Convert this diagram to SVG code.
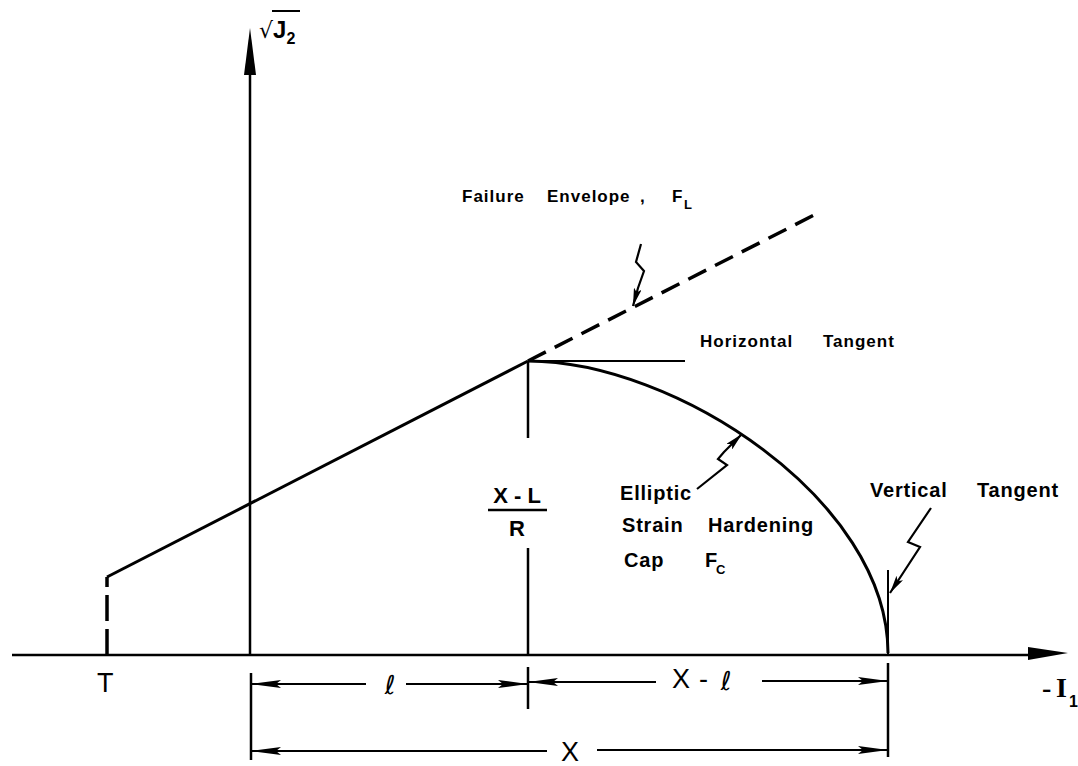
<svg xmlns="http://www.w3.org/2000/svg" width="1078" height="766" viewBox="0 0 1078 766">
<style>
  .ln{stroke:#000;fill:none;stroke-linecap:butt;stroke-linejoin:miter}
  .lbl{font-family:"Liberation Sans",Arial,sans-serif;font-weight:bold;font-size:17px;fill:#000;letter-spacing:1px}
  .mid{font-family:"Liberation Sans",Arial,sans-serif;font-weight:bold;font-size:20px;fill:#000;letter-spacing:0.8px}
  .sub{font-family:"Liberation Sans",Arial,sans-serif;font-weight:bold;font-size:13px;fill:#000}
  .big{font-family:"Liberation Sans",Arial,sans-serif;font-size:27px;fill:#000}
  .ah{fill:#000;stroke:none}
</style>
<defs>
  <marker id="arr" markerUnits="userSpaceOnUse" markerWidth="30" markerHeight="10" refX="30" refY="5" orient="auto">
    <path d="M0,1 L30,5 L0,9 L5,5 Z" fill="#000"/>
  </marker>
  <marker id="sarr" markerUnits="userSpaceOnUse" markerWidth="18" markerHeight="8" refX="18" refY="4" orient="auto">
    <path d="M0,0 L18,4 L0,8 L4,4 Z" fill="#000"/>
  </marker>
</defs>
<rect width="1078" height="766" fill="#fff"/>

<g id="axes">
  <line class="ln" x1="250" y1="70" x2="250" y2="655" stroke-width="2.5"/>
  <polygon class="ah" points="250,28 256,75 244,75"/>
  <line class="ln" x1="12" y1="655" x2="1035" y2="655" stroke-width="2.5"/>
  <polygon class="ah" points="1068,653 1028,647 1028,660"/>
  <text x="259" y="38" style="font-family:'DejaVu Sans',sans-serif;font-size:22px">√<tspan style="font-family:'Liberation Sans',Arial,sans-serif;font-weight:bold;font-size:24px">J</tspan><tspan dy="6" style="font-family:'Liberation Sans',Arial,sans-serif;font-weight:bold;font-size:16px">2</tspan></text>
  <line class="ln" x1="272" y1="11" x2="300" y2="11" stroke-width="2"/>
  <text x="1042" y="697" style="font-family:'Liberation Serif',serif;font-weight:bold;font-size:28px">-</text>
  <text x="1056" y="697" style="font-family:'Liberation Serif',serif;font-weight:bold;font-size:28px">I</text>
  <text x="1069" y="707" style="font-family:'Liberation Sans',Arial,sans-serif;font-weight:bold;font-size:16px">1</text>
</g>

<g id="envelope">
  <line class="ln" x1="107" y1="655" x2="107" y2="577" stroke-width="3.5" stroke-dasharray="26 8"/>
  <polyline class="ln" points="107,577 528,361" stroke-width="3"/>
  <line class="ln" x1="528" y1="361" x2="820" y2="212" stroke-width="3.5" stroke-dasharray="20 10"/>
  <text class="big" x="97" y="692">T</text>
</g>

<g id="cap">
  <path class="ln" d="M528,361 C675,361 888,500 888,653" stroke-width="3"/>
  <line class="ln" x1="528" y1="361" x2="685" y2="361" stroke-width="2"/>
  <line class="ln" x1="888" y1="570" x2="888" y2="655" stroke-width="2"/>
  <line class="ln" x1="528" y1="361" x2="528" y2="438" stroke-width="2.5"/>
  <line class="ln" x1="528" y1="548" x2="528" y2="655" stroke-width="2.5"/>
</g>

<g id="labels">
  <text class="lbl" x="462" y="202">Failure</text>
  <text class="lbl" x="547" y="202">Envelope</text>
  <text class="lbl" x="640" y="202">,</text>
  <text class="lbl" x="672" y="202">F</text>
  <text class="sub" x="684" y="209">L</text>
  <text class="lbl" x="700" y="347">Horizontal</text>
  <text class="lbl" x="823" y="347">Tangent</text>
  <text x="517" y="503" text-anchor="middle" style="font-family:'Liberation Sans',Arial,sans-serif;font-weight:bold;font-size:22px">X - L</text>
  <line class="ln" x1="488" y1="510" x2="547" y2="510" stroke-width="2.5"/>
  <text x="517" y="536" text-anchor="middle" style="font-family:'Liberation Sans',Arial,sans-serif;font-weight:bold;font-size:22px">R</text>
  <text class="mid" x="620" y="500">Elliptic</text>
  <text class="mid" x="622" y="532">Strain</text>
  <text class="mid" x="708" y="532">Hardening</text>
  <text class="mid" x="624" y="567">Cap</text>
  <text class="mid" x="705" y="567">F</text>
  <text class="sub" x="716" y="574">C</text>
  <text class="mid" x="870" y="497">Vertical</text>
  <text class="mid" x="977" y="497">Tangent</text>
</g>

<g id="leaders">
  <polyline class="ln" points="641,244 636,262 644,271 638,288 633,306" stroke-width="2.2" marker-end="url(#sarr)"/>
  <polyline class="ln" points="697,489 727,465 718,459 724,452 742,434" stroke-width="2.2" marker-end="url(#sarr)"/>
  <polyline class="ln" points="931,508 908,542 920,547 890,593" stroke-width="2.2" marker-end="url(#sarr)"/>
</g>

<g id="dimensions">
  <line class="ln" x1="251" y1="673" x2="251" y2="760" stroke-width="2.5"/>
  <line class="ln" x1="528" y1="667" x2="528" y2="709" stroke-width="2.5"/>
  <line class="ln" x1="888" y1="663" x2="888" y2="757" stroke-width="2.5"/>
  <line class="ln" x1="366" y1="684" x2="251" y2="684" stroke-width="2" marker-end="url(#arr)"/>
  <line class="ln" x1="406" y1="684" x2="528" y2="684" stroke-width="2" marker-end="url(#arr)"/>
  <line class="ln" x1="656" y1="682" x2="528" y2="682" stroke-width="2" marker-end="url(#arr)"/>
  <line class="ln" x1="762" y1="681" x2="888" y2="681" stroke-width="2" marker-end="url(#arr)"/>
  <line class="ln" x1="547" y1="751" x2="251" y2="751" stroke-width="2" marker-end="url(#arr)"/>
  <line class="ln" x1="597" y1="750" x2="888" y2="750" stroke-width="2" marker-end="url(#arr)"/>
  <text x="390" y="694" text-anchor="middle" style="font-family:'DejaVu Sans',sans-serif;font-size:26px">ℓ</text>
  <text class="big" x="672" y="688">X</text>
  <text class="big" x="699" y="688">-</text>
  <text x="726" y="690" text-anchor="middle" style="font-family:'DejaVu Sans',sans-serif;font-size:26px">ℓ</text>
  <text class="big" x="570" y="761" text-anchor="middle">X</text>
</g>
</svg>
